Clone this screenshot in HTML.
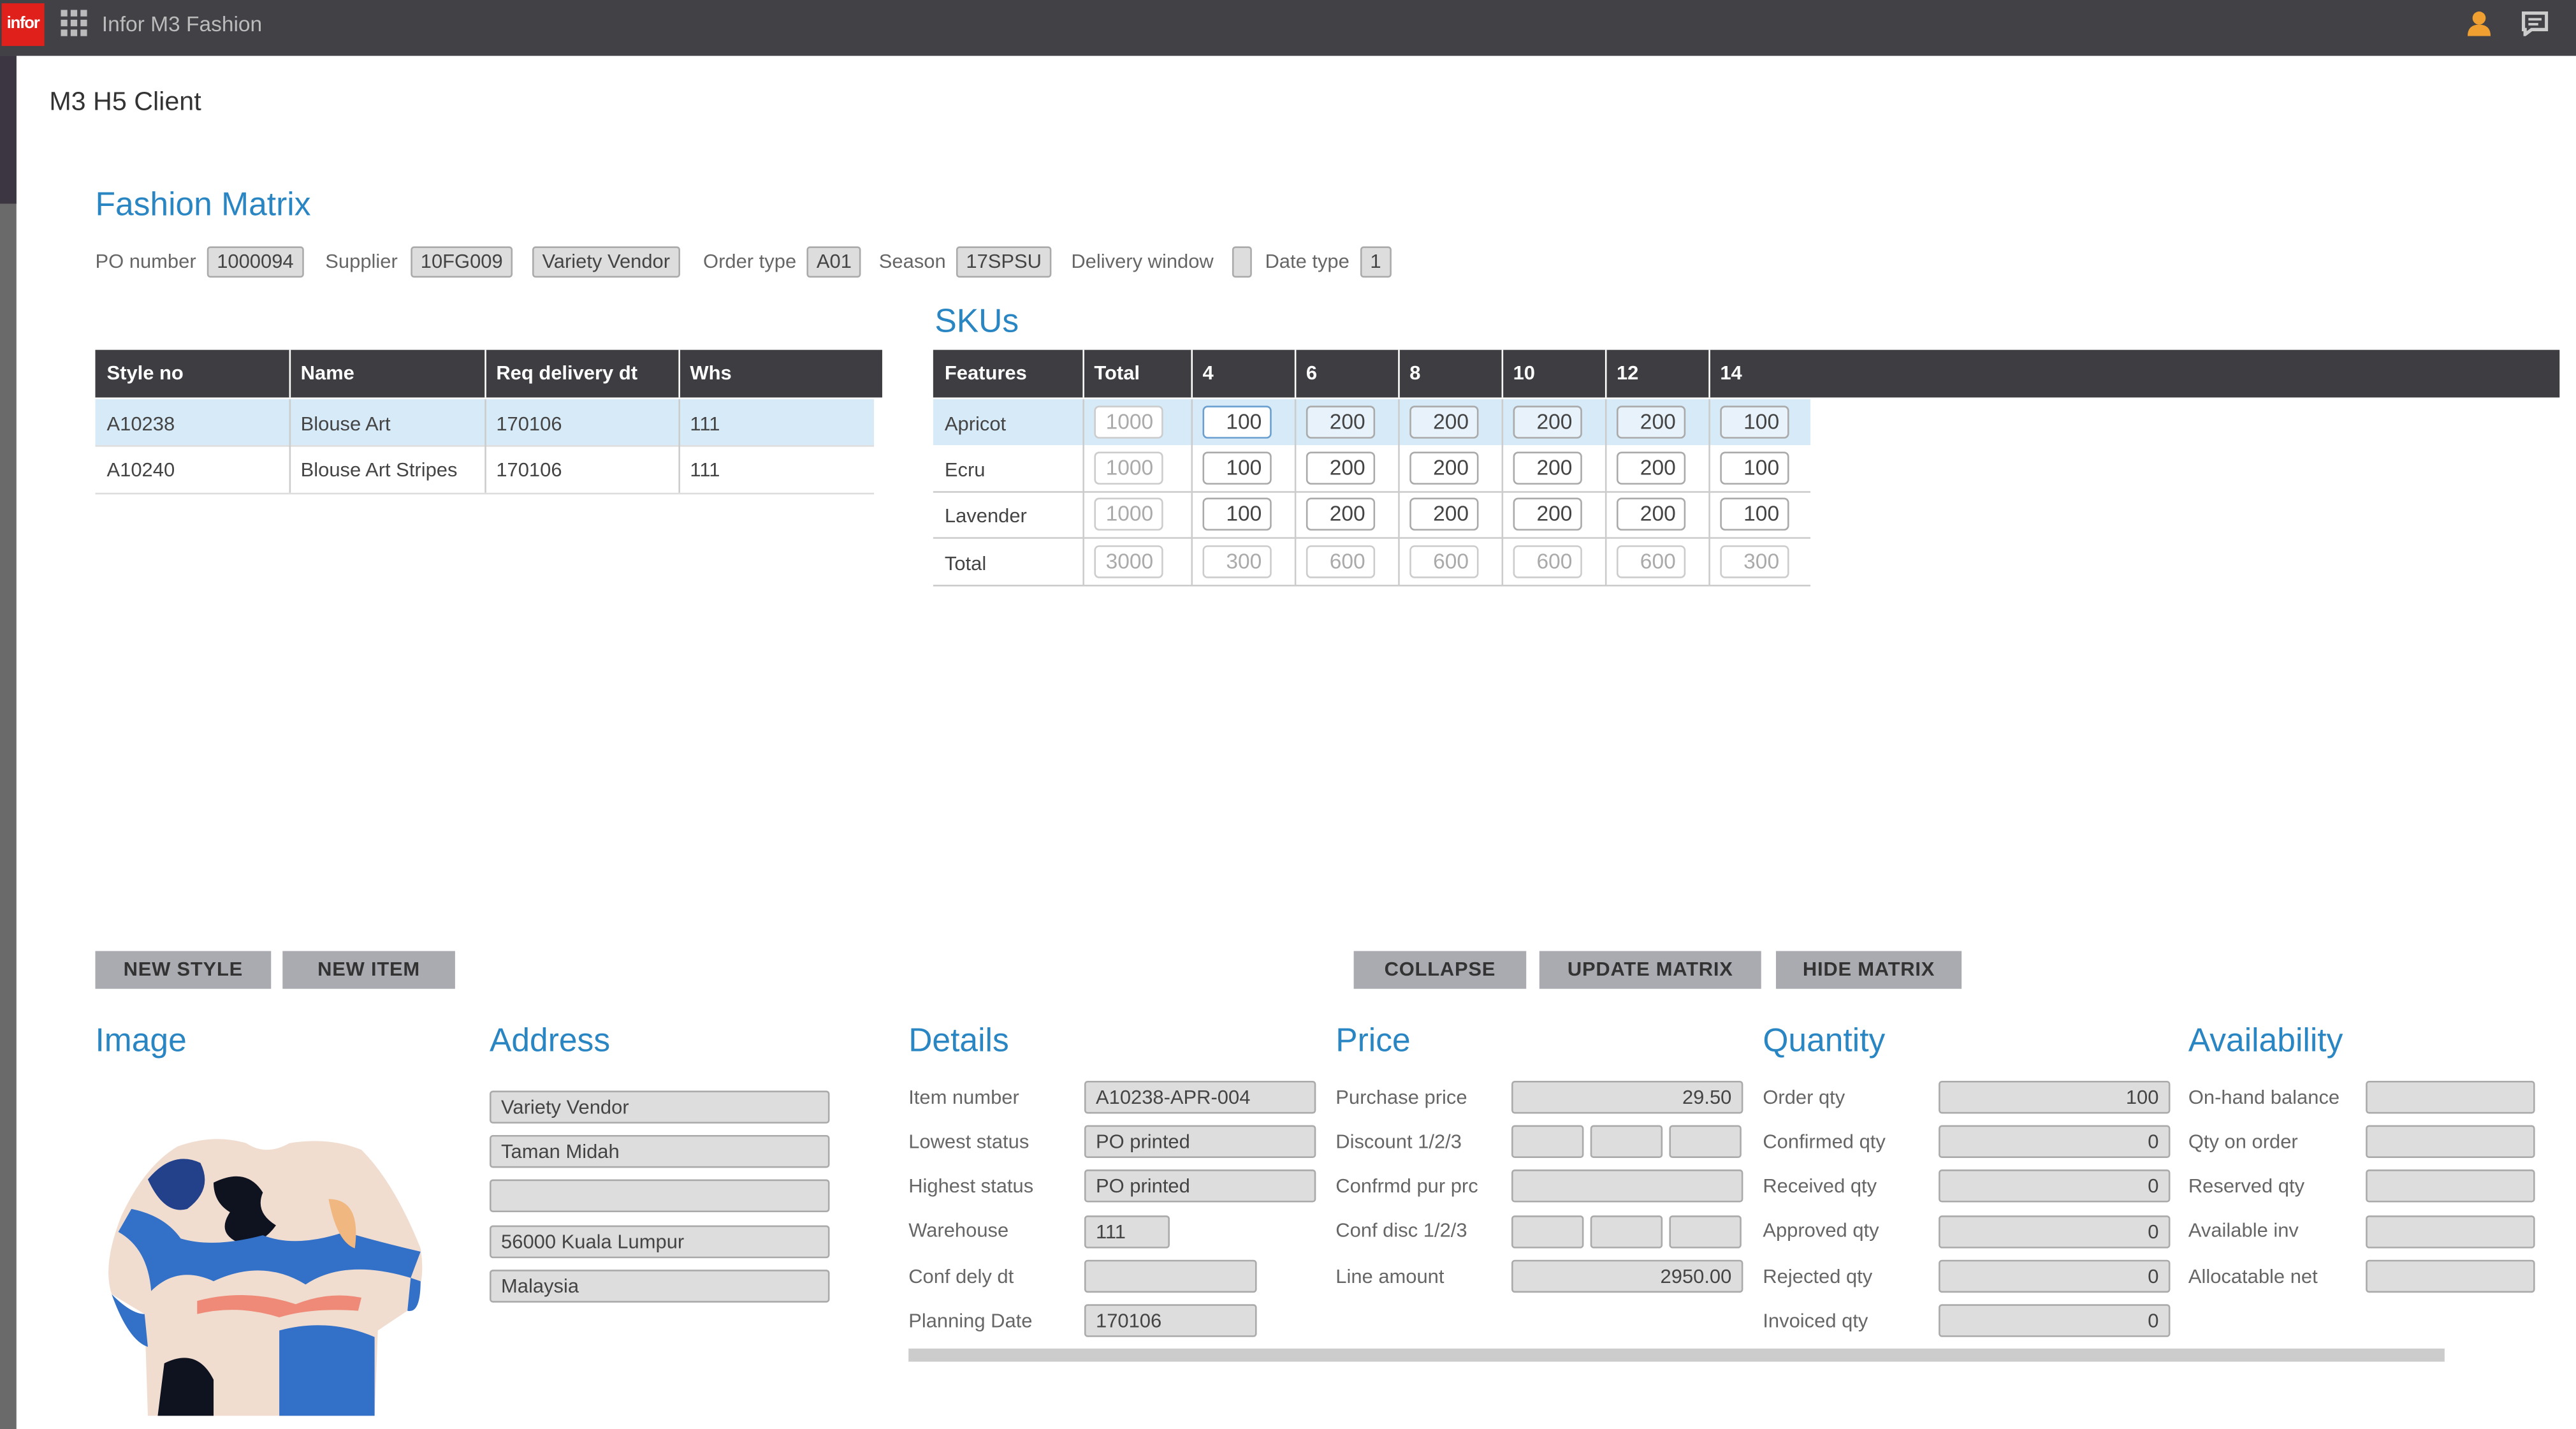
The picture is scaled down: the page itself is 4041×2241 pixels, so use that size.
<!DOCTYPE html>
<html><head><meta charset="utf-8"><style>
html,body{margin:0;padding:0;width:4041px;height:2241px;overflow:hidden;background:#fff}
#w{position:absolute;left:0;top:0;width:1568px;height:870px;transform:scale(2.5772,2.5759);transform-origin:0 0;font-family:"Liberation Sans",sans-serif;font-size:12px;color:#555}
.a{position:absolute}
.t{position:absolute;white-space:nowrap}
.h{color:#2a86c3;font-size:20px}
.bx{position:absolute;background:#ddd;border:1px solid #aaa;border-radius:2px;box-sizing:border-box;height:19px;line-height:17px;padding:0 5px;color:#444;white-space:nowrap}
.th{position:absolute;background:#3d3d42;color:#fff;font-weight:bold;height:29px;line-height:28px}
.th span{position:absolute;top:0}
.vl{position:absolute;width:1px;background:#ccc}
.cell{position:absolute;border:1px solid #aaa;border-radius:3px;background:#fff;box-sizing:border-box;height:20px;width:42px;text-align:right;padding-right:5px;line-height:18px;font-size:13px;color:#444}
.g{color:#aaa;border-color:#ccc}
.btn{position:absolute;background:#a9abb1;color:#333;font-weight:bold;height:23px;line-height:23px;text-align:center;font-size:12px;letter-spacing:.3px}
.lb{position:absolute;color:#666;white-space:nowrap}
.in{position:absolute;background:#ddd;border:1px solid #aaa;border-radius:2px;box-sizing:border-box;height:20px;line-height:18px;padding:0 6px;color:#444;white-space:nowrap}
.r{text-align:right}
</style></head><body><div id="w">
<div class="a" style="left:0;top:0;width:1568px;height:34px;background:#414146"></div>
<div class="a" style="left:1px;top:2px;width:26px;height:26px;background:#e0201b;color:#fff;font-size:10px;font-weight:bold;line-height:26px;text-align:center;letter-spacing:-.5px">infor</div>
<svg class="a" style="left:37px;top:6px" width="16" height="17"><g fill="#bbb"><rect x="0" y="0" width="4" height="4"/><rect x="6" y="0" width="4" height="4"/><rect x="12" y="0" width="4" height="4"/><rect x="0" y="6" width="4" height="4"/><rect x="6" y="6" width="4" height="4"/><rect x="12" y="6" width="4" height="4"/><rect x="0" y="12" width="4" height="4"/><rect x="6" y="12" width="4" height="4"/><rect x="12" y="12" width="4" height="4"/></g></svg>
<div class="t" style="left:62px;top:7px;color:#bbb;font-size:13px">Infor M3 Fashion</div>
<svg class="a" style="left:1502px;top:6px" width="14" height="16"><circle cx="7" cy="5" r="4" fill="#f0a030"/><path d="M0 16 Q0 9 7 9 Q14 9 14 16Z" fill="#f0a030"/></svg>
<svg class="a" style="left:1535px;top:7px" width="16" height="15"><path d="M1 1H15V11H6L2 14V11H1Z" fill="none" stroke="#ccc" stroke-width="2"/><rect x="4" y="4" width="8" height="1.5" fill="#ccc"/><rect x="4" y="7" width="6" height="1.5" fill="#ccc"/></svg>
<div class="a" style="left:0;top:34px;width:10px;height:836px;background:#6a6a6a"></div>
<div class="a" style="left:0;top:34px;width:10px;height:90px;background:#3b3641"></div>

<div class="t" style="left:30px;top:54px;font-size:16px;color:#333">M3 H5 Client</div>
<div class="t h" style="left:58px;top:114px">Fashion Matrix</div>
<div class="lb" style="left:58px;top:152px">PO number</div><div class="bx" style="left:126px;top:150px">1000094</div>
<div class="lb" style="left:198px;top:152px">Supplier</div><div class="bx" style="left:250px;top:150px">10FG009</div>
<div class="bx" style="left:324px;top:150px">Variety Vendor</div>
<div class="lb" style="left:428px;top:152px">Order type</div><div class="bx" style="left:491px;top:150px">A01</div>
<div class="lb" style="left:535px;top:152px">Season</div><div class="bx" style="left:582px;top:150px">17SPSU</div>
<div class="lb" style="left:652px;top:152px">Delivery window</div><div class="bx" style="left:750px;top:150px;width:12px"></div>
<div class="lb" style="left:770px;top:152px">Date type</div><div class="bx" style="left:828px;top:150px">1</div>

<!-- left table -->
<div class="th" style="left:58px;top:213px;width:479px"><span style="left:7px">Style no</span><span style="left:125px">Name</span><span style="left:244px">Req delivery dt</span><span style="left:362px">Whs</span></div>
<div class="a" style="left:176px;top:213px;width:1px;height:29px;background:#fff"></div><div class="a" style="left:295px;top:213px;width:1px;height:29px;background:#fff"></div><div class="a" style="left:413px;top:213px;width:1px;height:29px;background:#fff"></div>
<div class="a" style="left:58px;top:243px;width:474px;height:28px;background:#d7eaf7"></div>
<div class="a" style="left:58px;top:271px;width:474px;height:1px;background:#ddd"></div>
<div class="a" style="left:58px;top:300px;width:474px;height:1px;background:#ddd"></div>
<div class="vl" style="left:176px;top:243px;height:57px"></div><div class="vl" style="left:295px;top:243px;height:57px"></div><div class="vl" style="left:413px;top:243px;height:57px"></div>
<div class="t" style="left:65px;top:251px;color:#444">A10238</div><div class="t" style="left:183px;top:251px;color:#444">Blouse Art</div><div class="t" style="left:302px;top:251px;color:#444">170106</div><div class="t" style="left:420px;top:251px;color:#444">111</div>
<div class="t" style="left:65px;top:279px;color:#444">A10240</div><div class="t" style="left:183px;top:279px;color:#444">Blouse Art Stripes</div><div class="t" style="left:302px;top:279px;color:#444">170106</div><div class="t" style="left:420px;top:279px;color:#444">111</div>

<!-- SKUs -->
<div class="t h" style="left:569px;top:185px">SKUs</div>
<div class="th" style="left:568px;top:213px;width:990px"><span style="left:7px">Features</span><span style="left:98px">Total</span><span style="left:164px">4</span><span style="left:227px">6</span><span style="left:290px">8</span><span style="left:353px">10</span><span style="left:416px">12</span><span style="left:479px">14</span></div>
<div class="a" style="left:659px;top:213px;width:1px;height:29px;background:#fff"></div><div class="a" style="left:725px;top:213px;width:1px;height:29px;background:#fff"></div><div class="a" style="left:788px;top:213px;width:1px;height:29px;background:#fff"></div><div class="a" style="left:851px;top:213px;width:1px;height:29px;background:#fff"></div><div class="a" style="left:914px;top:213px;width:1px;height:29px;background:#fff"></div><div class="a" style="left:977px;top:213px;width:1px;height:29px;background:#fff"></div><div class="a" style="left:1040px;top:213px;width:1px;height:29px;background:#fff"></div>
<div class="a" style="left:568px;top:243px;width:534px;height:28px;background:#d7eaf7"></div>
<div class="a" style="left:568px;top:299px;width:534px;height:1px;background:#ccc"></div>
<div class="a" style="left:568px;top:327px;width:534px;height:1px;background:#ccc"></div>
<div class="a" style="left:568px;top:356px;width:534px;height:1px;background:#ccc"></div>
<div class="vl" style="left:659px;top:243px;height:113px"></div><div class="vl" style="left:725px;top:243px;height:113px"></div><div class="vl" style="left:788px;top:243px;height:113px"></div><div class="vl" style="left:851px;top:243px;height:113px"></div><div class="vl" style="left:914px;top:243px;height:113px"></div><div class="vl" style="left:977px;top:243px;height:113px"></div><div class="vl" style="left:1040px;top:243px;height:113px"></div>
<div class="t" style="left:575px;top:251px;color:#444">Apricot</div><div class="t" style="left:575px;top:279px;color:#444">Ecru</div><div class="t" style="left:575px;top:307px;color:#444">Lavender</div><div class="t" style="left:575px;top:336px;color:#444">Total</div>

<div class="cell g" style="left:666px;top:247px">1000</div><div class="cell" style="left:732px;top:247px;border-color:#6a9fd0">100</div><div class="cell" style="left:795px;top:247px;background:#e8f2fa">200</div><div class="cell" style="left:858px;top:247px;background:#e8f2fa">200</div><div class="cell" style="left:921px;top:247px;background:#e8f2fa">200</div><div class="cell" style="left:984px;top:247px;background:#e8f2fa">200</div><div class="cell" style="left:1047px;top:247px;background:#e8f2fa">100</div>
<div class="cell g" style="left:666px;top:275px">1000</div><div class="cell" style="left:732px;top:275px">100</div><div class="cell" style="left:795px;top:275px">200</div><div class="cell" style="left:858px;top:275px">200</div><div class="cell" style="left:921px;top:275px">200</div><div class="cell" style="left:984px;top:275px">200</div><div class="cell" style="left:1047px;top:275px">100</div>
<div class="cell g" style="left:666px;top:303px">1000</div><div class="cell" style="left:732px;top:303px">100</div><div class="cell" style="left:795px;top:303px">200</div><div class="cell" style="left:858px;top:303px">200</div><div class="cell" style="left:921px;top:303px">200</div><div class="cell" style="left:984px;top:303px">200</div><div class="cell" style="left:1047px;top:303px">100</div>
<div class="cell g" style="left:666px;top:332px">3000</div><div class="cell g" style="left:732px;top:332px">300</div><div class="cell g" style="left:795px;top:332px">600</div><div class="cell g" style="left:858px;top:332px">600</div><div class="cell g" style="left:921px;top:332px">600</div><div class="cell g" style="left:984px;top:332px">600</div><div class="cell g" style="left:1047px;top:332px">300</div>

<!-- buttons -->
<div class="btn" style="left:58px;top:579px;width:107px">NEW STYLE</div>
<div class="btn" style="left:172px;top:579px;width:105px">NEW ITEM</div>
<div class="btn" style="left:824px;top:579px;width:105px">COLLAPSE</div>
<div class="btn" style="left:937px;top:579px;width:135px">UPDATE MATRIX</div>
<div class="btn" style="left:1081px;top:579px;width:113px">HIDE MATRIX</div>

<div class="t h" style="left:58px;top:623px">Image</div>
<div class="t h" style="left:298px;top:623px">Address</div>
<div class="t h" style="left:553px;top:623px">Details</div>
<div class="t h" style="left:813px;top:623px">Price</div>
<div class="t h" style="left:1073px;top:623px">Quantity</div>
<div class="t h" style="left:1332px;top:623px">Availability</div>

<svg class="a" style="left:60px;top:690px" width="205" height="172" viewBox="0 0 205 172">
<path d="M48 8 Q70 0 90 6 Q102 14 116 6 Q140 2 160 10 Q180 30 196 70 Q200 95 188 108 L170 120 L168 172 L30 172 L28 110 L8 98 Q2 80 14 50 Q28 20 48 8Z" fill="#f1ddd0"/>
<path d="M30 28 Q45 10 62 18 Q70 34 54 46 Q40 50 30 28Z" fill="#23408a"/>
<path d="M70 30 Q90 20 100 36 Q95 48 108 56 Q98 70 84 66 Q72 60 80 48 Q70 42 70 30Z" fill="#0f1320"/>
<path d="M12 60 Q30 70 32 96 Q48 80 70 90 Q100 76 126 92 Q150 76 190 88 L196 72 Q170 66 150 60 Q120 70 100 62 Q70 70 50 64 Q40 50 20 46Z" fill="#3370c8"/>
<path d="M140 40 Q160 40 156 70 Q145 66 140 40Z" fill="#f0b880"/>
<path d="M60 102 Q90 94 120 104 Q140 96 160 100 L158 108 Q130 106 110 112 Q85 104 60 110Z" fill="#ef8a78"/>
<path d="M8 98 Q20 110 28 110 L30 130 Q18 126 8 98Z M188 108 Q196 110 196 90 L190 88Z" fill="#3370c8"/>
<path d="M40 140 Q60 130 70 150 L70 172 L36 172Z" fill="#0f1320"/>
<path d="M110 120 Q140 112 168 124 L168 172 L110 172Z" fill="#3370c8"/>
</svg>

<!-- address -->
<div class="in" style="left:298px;top:664px;width:207px">Variety Vendor</div>
<div class="in" style="left:298px;top:691px;width:207px">Taman Midah</div>
<div class="in" style="left:298px;top:718px;width:207px"></div>
<div class="in" style="left:298px;top:746px;width:207px">56000 Kuala Lumpur</div>
<div class="in" style="left:298px;top:773px;width:207px">Malaysia</div>

<!-- details -->
<div class="lb" style="left:553px;top:661px">Item number</div><div class="in" style="left:660px;top:658px;width:141px">A10238-APR-004</div>
<div class="lb" style="left:553px;top:688px">Lowest status</div><div class="in" style="left:660px;top:685px;width:141px">PO printed</div>
<div class="lb" style="left:553px;top:715px">Highest status</div><div class="in" style="left:660px;top:712px;width:141px">PO printed</div>
<div class="lb" style="left:553px;top:742px">Warehouse</div><div class="in" style="left:660px;top:740px;width:52px">111</div>
<div class="lb" style="left:553px;top:770px">Conf dely dt</div><div class="in" style="left:660px;top:767px;width:105px"></div>
<div class="lb" style="left:553px;top:797px">Planning Date</div><div class="in" style="left:660px;top:794px;width:105px">170106</div>
<div class="a" style="left:553px;top:821px;width:935px;height:8px;background:#ccc"></div>

<!-- price -->
<div class="lb" style="left:813px;top:661px">Purchase price</div><div class="in r" style="left:920px;top:658px;width:141px">29.50</div>
<div class="lb" style="left:813px;top:688px">Discount 1/2/3</div><div class="in" style="left:920px;top:685px;width:44px"></div><div class="in" style="left:968px;top:685px;width:44px"></div><div class="in" style="left:1016px;top:685px;width:44px"></div>
<div class="lb" style="left:813px;top:715px">Confrmd pur prc</div><div class="in" style="left:920px;top:712px;width:141px"></div>
<div class="lb" style="left:813px;top:742px">Conf disc 1/2/3</div><div class="in" style="left:920px;top:740px;width:44px"></div><div class="in" style="left:968px;top:740px;width:44px"></div><div class="in" style="left:1016px;top:740px;width:44px"></div>
<div class="lb" style="left:813px;top:770px">Line amount</div><div class="in r" style="left:920px;top:767px;width:141px">2950.00</div>

<!-- quantity -->
<div class="lb" style="left:1073px;top:661px">Order qty</div><div class="in r" style="left:1180px;top:658px;width:141px">100</div>
<div class="lb" style="left:1073px;top:688px">Confirmed qty</div><div class="in r" style="left:1180px;top:685px;width:141px">0</div>
<div class="lb" style="left:1073px;top:715px">Received qty</div><div class="in r" style="left:1180px;top:712px;width:141px">0</div>
<div class="lb" style="left:1073px;top:742px">Approved qty</div><div class="in r" style="left:1180px;top:740px;width:141px">0</div>
<div class="lb" style="left:1073px;top:770px">Rejected qty</div><div class="in r" style="left:1180px;top:767px;width:141px">0</div>
<div class="lb" style="left:1073px;top:797px">Invoiced qty</div><div class="in r" style="left:1180px;top:794px;width:141px">0</div>

<!-- availability -->
<div class="lb" style="left:1332px;top:661px">On-hand balance</div><div class="in" style="left:1440px;top:658px;width:103px"></div>
<div class="lb" style="left:1332px;top:688px">Qty on order</div><div class="in" style="left:1440px;top:685px;width:103px"></div>
<div class="lb" style="left:1332px;top:715px">Reserved qty</div><div class="in" style="left:1440px;top:712px;width:103px"></div>
<div class="lb" style="left:1332px;top:742px">Available inv</div><div class="in" style="left:1440px;top:740px;width:103px"></div>
<div class="lb" style="left:1332px;top:770px">Allocatable net</div><div class="in" style="left:1440px;top:767px;width:103px"></div>
</div></body></html>
